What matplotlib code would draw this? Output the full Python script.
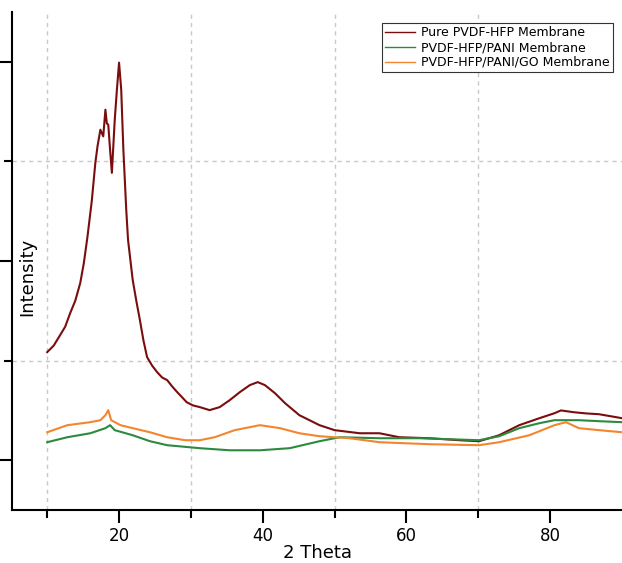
import matplotlib.pyplot as plt
import numpy as np

# values (2 Theta, intensity in arbitrary counts)
x_pure = [10, 10.9, 11.8, 12.5, 13.2, 13.9, 14.6, 15.1, 15.6, 16.2, 16.7, 17.0, 17.4, 17.8,
          18.1, 18.3, 18.5, 18.75, 19.0, 19.4, 19.7, 20.0, 20.3, 20.6, 21.0, 21.25, 21.9,
          22.4, 22.9, 23.4, 23.9, 24.6, 25.3, 26.0, 26.7, 27.4, 28.1, 28.8, 29.4, 30.3, 31.25,
          32.6, 34.0, 35.4, 36.8, 38.2, 39.3, 40.3, 41.7, 43.1, 45.1, 47.9, 50.0, 53.5, 56.25,
          59.0, 63.2, 67.4, 70.1, 72.9, 75.7, 78.5, 80.6, 81.5, 83.3, 85.0, 86.8, 90.0]
y_pure = [2085, 2150, 2256, 2340, 2477, 2600, 2779, 2980, 3241, 3600, 3985, 4150, 4317, 4250,
          4518, 4380, 4367, 4116, 3884, 4417, 4719, 4990, 4719, 4116, 3513, 3211, 2809,
          2600, 2407, 2200, 2035, 1950, 1884, 1830, 1804, 1740, 1683, 1630, 1583, 1550, 1533,
          1503, 1533, 1603, 1683, 1754, 1784, 1754, 1673, 1573, 1452, 1352, 1302, 1271, 1271,
          1231, 1221, 1201, 1191, 1251, 1352, 1422, 1472, 1500, 1482, 1470, 1462, 1422]

x_pani = [10, 12.8, 16.0, 18.1, 18.75, 19.4, 21.9, 24.3, 26.7, 31.25, 35.4, 39.6, 43.75, 47.9,
          50.7, 56.25, 61.8, 70.1, 72.9, 75.7, 78.5, 80.6, 84.0, 86.8, 90.0]
y_pani = [1181, 1231, 1271, 1322, 1352, 1302, 1251, 1191, 1151, 1121, 1100, 1100, 1121, 1191,
          1231, 1221, 1221, 1201, 1241, 1322, 1372, 1402, 1402, 1392, 1382]

x_go = [10, 12.8, 16.0, 17.4, 18.1, 18.5, 18.9, 20.2, 21.9, 24.3, 26.7, 29.2, 31.25, 33.3,
        36.1, 39.6, 42.4, 45.1, 47.9, 52.1, 56.25, 63.2, 70.1, 72.9, 77.1, 80.6, 82.2, 84.0,
        86.8, 90.0]
y_go = [1281, 1352, 1382, 1402, 1452, 1503, 1402, 1352, 1322, 1281, 1231, 1201, 1201, 1231,
        1302, 1352, 1322, 1271, 1241, 1221, 1181, 1161, 1151, 1181, 1251, 1352, 1382, 1322,
        1302, 1281]

labels = ['Pure PVDF-HFP Membrane', 'PVDF-HFP/PANI Membrane', 'PVDF-HFP/PANI/GO Membrane']
colors = ['#7a0d0d', '#2b8a3e', '#f4852e']

fig = plt.figure(figsize=(6.22, 5.63), dpi=100)
ax = fig.add_axes([0.0193, 0.094, 0.9807, 0.885])

ax.plot(x_pure, y_pure, color=colors[0], lw=1.5, label=labels[0])
ax.plot(x_pani, y_pani, color=colors[1], lw=1.5, label=labels[1])
ax.plot(x_go, y_go, color=colors[2], lw=1.5, label=labels[2])

ax.set_xlim(5.1, 90)
ax.set_ylim(500, 5500)
ax.set_xticks([20, 40, 60, 80])
ax.set_xticks([10, 30, 50, 70], minor=True)
ax.set_yticks([1000, 3000, 5000])
ax.set_yticks([2000, 4000], minor=True)
ax.set_yticklabels([])
ax.tick_params(axis='both', which='major', direction='out', length=9, width=1.5, labelsize=12)
ax.tick_params(axis='both', which='minor', direction='out', length=6, width=1.5)
ax.grid(which='minor', linestyle=(0, (3, 3)), color='#c8c8c8', linewidth=1)

for side in ['top', 'right']:
    ax.spines[side].set_visible(False)
for side in ['left', 'bottom']:
    ax.spines[side].set_linewidth(1.5)

ax.set_xlabel('2 Theta', fontsize=13, labelpad=-1)
ax.text(0.025, 0.468, 'Intensity', rotation=90, fontsize=13, transform=ax.transAxes,
        ha='center', va='center')

leg = ax.legend(loc='upper right', bbox_to_anchor=(0.995, 0.99), fontsize=9,
                fancybox=False, framealpha=1, edgecolor='#333333', handlelength=2.4,
                borderpad=0.25, labelspacing=0.15, handletextpad=0.5)
leg.get_frame().set_linewidth(0.8)
for line in leg.get_lines():
    line.set_linewidth(1.0)

fig.savefig('out.png', dpi=100)
